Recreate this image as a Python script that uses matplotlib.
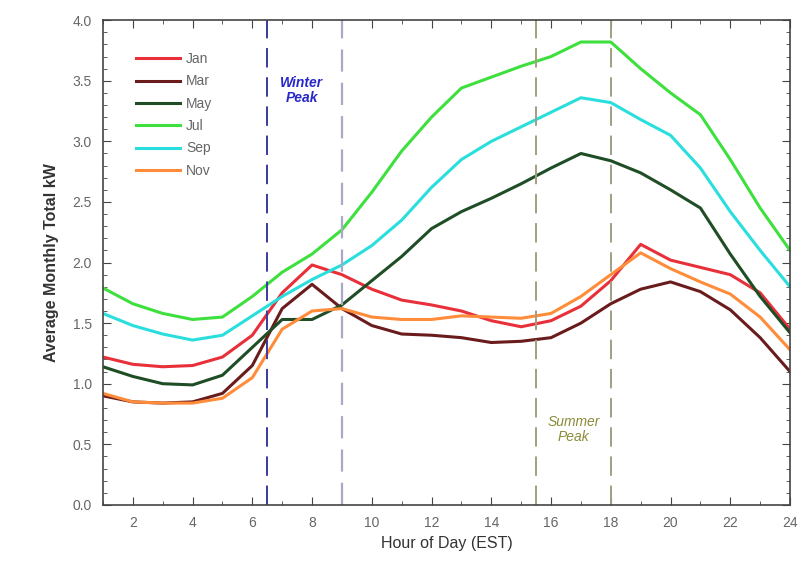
import matplotlib.pyplot as plt
from matplotlib.ticker import MultipleLocator, FormatStrFormatter

plt.rcParams['font.family'] = ['Liberation Sans', 'DejaVu Sans']

hours = list(range(1, 25))

jan = [1.22, 1.16, 1.14, 1.15, 1.22, 1.40, 1.75, 1.98, 1.90, 1.78, 1.69, 1.65,
       1.60, 1.52, 1.47, 1.52, 1.64, 1.85, 2.15, 2.02, 1.96, 1.90, 1.75, 1.45]
mar = [0.90, 0.85, 0.84, 0.85, 0.92, 1.15, 1.62, 1.82, 1.62, 1.48, 1.41, 1.40,
       1.38, 1.34, 1.35, 1.38, 1.50, 1.66, 1.78, 1.84, 1.76, 1.61, 1.38, 1.10]
may = [1.14, 1.06, 1.00, 0.99, 1.07, 1.30, 1.53, 1.53, 1.65, 1.85, 2.05, 2.28,
       2.42, 2.53, 2.65, 2.78, 2.90, 2.84, 2.74, 2.60, 2.45, 2.07, 1.72, 1.42]
jul = [1.79, 1.66, 1.58, 1.53, 1.55, 1.72, 1.92, 2.07, 2.27, 2.58, 2.92, 3.20,
       3.44, 3.53, 3.62, 3.70, 3.82, 3.82, 3.60, 3.40, 3.22, 2.85, 2.45, 2.10]
sep = [1.58, 1.48, 1.41, 1.36, 1.40, 1.56, 1.72, 1.86, 1.98, 2.14, 2.35, 2.62,
       2.85, 3.00, 3.12, 3.24, 3.36, 3.32, 3.18, 3.05, 2.78, 2.42, 2.10, 1.80]
nov = [0.92, 0.85, 0.84, 0.84, 0.88, 1.05, 1.45, 1.60, 1.62, 1.55, 1.53, 1.53,
       1.56, 1.55, 1.54, 1.58, 1.72, 1.90, 2.08, 1.95, 1.84, 1.74, 1.55, 1.28]

months = ['Jan', 'Mar', 'May', 'Jul', 'Sep', 'Nov']
series = [jan, mar, may, jul, sep, nov]
colors = ['#e8303a', '#6a1c1c', '#1f4d25', '#3ee03e', '#2adede', '#ff8c3a']

winter_peak = [6.5, 9]
summer_peak = [15.5, 18]

fig = plt.figure(figsize=(7.98, 5.77), dpi=100)
ax = fig.add_axes([0.129, 0.125, 0.861, 0.84])

for name, vals, col in zip(months, series, colors):
    ax.plot(hours, vals, color=col, lw=2.2, label=name,
            solid_joinstyle='round')

ax.axvline(winter_peak[0], color='#3a3aa0', lw=1.4, dashes=(10, 5))
ax.axvline(winter_peak[1], color='#a8a8c8', lw=1.6, dashes=(10, 5))
for x in summer_peak:
    ax.axvline(x, color='#a0a080', lw=1.4, dashes=(10, 5))

ax.text(7.65, 3.42, 'Winter\nPeak', color='#2828c8', fontsize=10,
        fontweight='bold', style='italic', ha='center', va='center',
        linespacing=1.05)
ax.text(16.75, 0.62, 'Summer\nPeak', color='#8a8a3a', fontsize=10,
        style='italic', ha='center', va='center', linespacing=1.05)

ax.set_xlim(1, 24)
ax.set_ylim(0, 4.0)
ax.xaxis.set_major_locator(MultipleLocator(2))
ax.xaxis.set_minor_locator(MultipleLocator(1))
ax.yaxis.set_major_locator(MultipleLocator(0.5))
ax.yaxis.set_minor_locator(MultipleLocator(0.1))
ax.yaxis.set_major_formatter(FormatStrFormatter('%.1f'))
ax.tick_params(which='both', direction='in', top=True, right=True,
               colors='#444444', labelcolor='#666666', labelsize=10)
ax.tick_params(which='major', length=6, pad=8)
ax.tick_params(which='minor', length=3)
for s in ax.spines.values():
    s.set_color('#444444')
    s.set_linewidth(1.2)

ax.set_xlabel('Hour of Day (EST)', fontsize=11.5, color='#333333')
ax.set_ylabel('Average Monthly Total kW', fontsize=11.5, color='#333333',
              fontweight='bold', labelpad=10)

leg = ax.legend(loc='upper left', bbox_to_anchor=(0.03, 0.96), frameon=False,
                fontsize=10, handlelength=3.2, labelspacing=0.6,
                handletextpad=0.4)
for t in leg.get_texts():
    t.set_color('#666666')

fig.savefig('out.png', dpi=100)
